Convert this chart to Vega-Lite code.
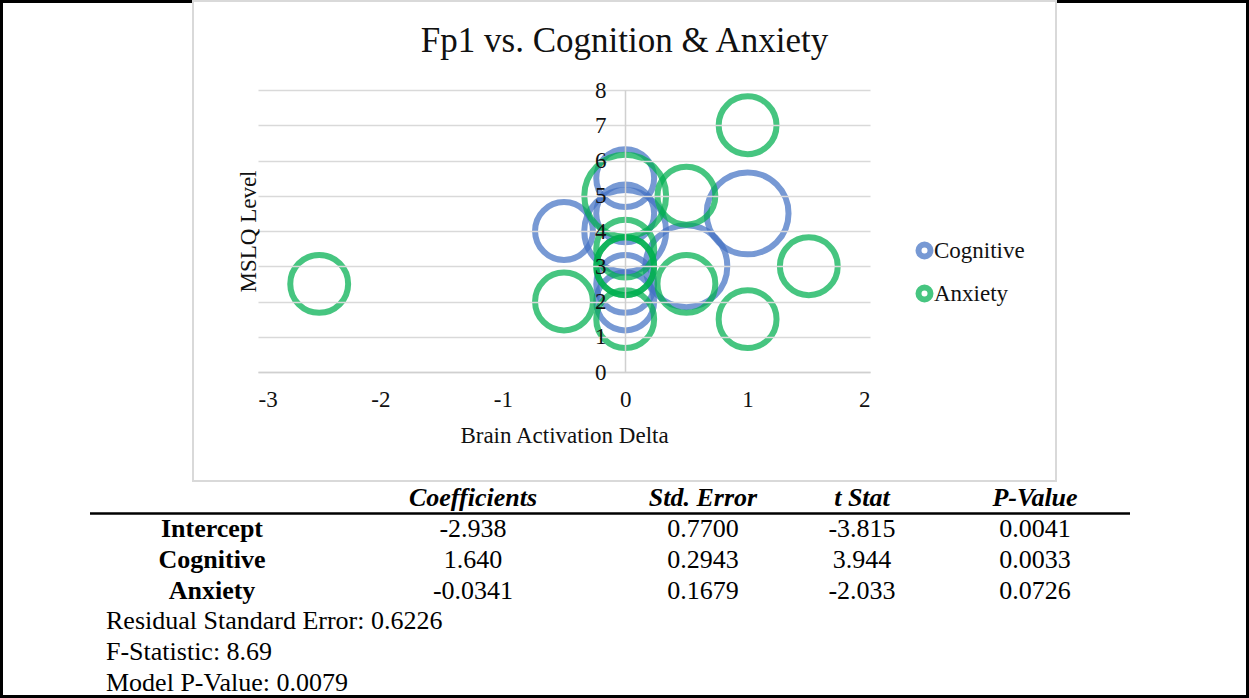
{
  "$schema": "https://vega.github.io/schema/vega-lite/v6.json",
  "width": 1249,
  "height": 698,
  "autosize": "none",
  "padding": 0,
  "background": "white",
  "config": {
    "view": {"stroke": "black", "strokeWidth": 6},
    "font": "Liberation Serif",
    "text": {"font": "Liberation Serif"}
  },
  "title": {
    "text": "Fp1 vs. Cognition & Anxiety",
    "anchor": "middle",
    "frame": "group",
    "font": "Liberation Serif",
    "fontSize": 35,
    "fontWeight": "normal",
    "color": "#111111",
    "offset": -87,
    "baseline": "alphabetic"
  },
  "datasets": {
    "bubbles": [
      {"series": "Cognitive", "delta": 0, "mslq": 5.5, "size": 1},
      {"series": "Cognitive", "delta": 0, "mslq": 4.5, "size": 1},
      {"series": "Cognitive", "delta": 0, "mslq": 4, "size": 2},
      {"series": "Cognitive", "delta": -0.5, "mslq": 4, "size": 1},
      {"series": "Cognitive", "delta": 1, "mslq": 4.5, "size": 2},
      {"series": "Cognitive", "delta": 0.5, "mslq": 3, "size": 2},
      {"series": "Cognitive", "delta": 0, "mslq": 2.5, "size": 1},
      {"series": "Cognitive", "delta": 0, "mslq": 2, "size": 1},
      {"series": "Anxiety", "delta": 1, "mslq": 7, "size": 1},
      {"series": "Anxiety", "delta": 0, "mslq": 5, "size": 2},
      {"series": "Anxiety", "delta": 0.5, "mslq": 5, "size": 1},
      {"series": "Anxiety", "delta": 0, "mslq": 3.5, "size": 1},
      {"series": "Anxiety", "delta": 0, "mslq": 3, "size": 1},
      {"series": "Anxiety", "delta": 0, "mslq": 3, "size": 1},
      {"series": "Anxiety", "delta": -0.5, "mslq": 2, "size": 1},
      {"series": "Anxiety", "delta": 0.5, "mslq": 2.5, "size": 1},
      {"series": "Anxiety", "delta": 1.5, "mslq": 3, "size": 1},
      {"series": "Anxiety", "delta": 1, "mslq": 1.5, "size": 1},
      {"series": "Anxiety", "delta": 0, "mslq": 1.5, "size": 1},
      {"series": "Anxiety", "delta": -2.5, "mslq": 2.5, "size": 1}
    ],
    "table": [
      {"kind": "header", "row": 0, "col": 1, "text": "Coefficients"},
      {"kind": "header", "row": 0, "col": 2, "text": "Std. Error"},
      {"kind": "header", "row": 0, "col": 3, "text": "t Stat"},
      {"kind": "header", "row": 0, "col": 4, "text": "P-Value"},
      {"kind": "label", "row": 1, "col": 0, "text": "Intercept"},
      {"kind": "label", "row": 2, "col": 0, "text": "Cognitive"},
      {"kind": "label", "row": 3, "col": 0, "text": "Anxiety"},
      {"kind": "value", "row": 1, "col": 1, "text": "-2.938"},
      {"kind": "value", "row": 1, "col": 2, "text": "0.7700"},
      {"kind": "value", "row": 1, "col": 3, "text": "-3.815"},
      {"kind": "value", "row": 1, "col": 4, "text": "0.0041"},
      {"kind": "value", "row": 2, "col": 1, "text": "1.640"},
      {"kind": "value", "row": 2, "col": 2, "text": "0.2943"},
      {"kind": "value", "row": 2, "col": 3, "text": "3.944"},
      {"kind": "value", "row": 2, "col": 4, "text": "0.0033"},
      {"kind": "value", "row": 3, "col": 1, "text": "-0.0341"},
      {"kind": "value", "row": 3, "col": 2, "text": "0.1679"},
      {"kind": "value", "row": 3, "col": 3, "text": "-2.033"},
      {"kind": "value", "row": 3, "col": 4, "text": "0.0726"},
      {"kind": "note", "row": 4, "col": -1, "text": "Residual Standard Error: 0.6226"},
      {"kind": "note", "row": 5, "col": -1, "text": "F-Statistic: 8.69"},
      {"kind": "note", "row": 6, "col": -1, "text": "Model P-Value: 0.0079"}
    ],
    "tablerule": [
      {"row": 0.5, "from": -2, "to": 5}
    ]
  },
  "layer": [
    {
      "data": {"values": [{"area": "Chart area"}]},
      "mark": {"type": "rect", "fill": "white", "stroke": "#d9d9d9", "strokeWidth": 2},
      "encoding": {
        "x": {"field": "area", "type": "nominal", "axis": null,
              "scale": {"type": "band", "range": [193, 1056], "paddingInner": 0, "paddingOuter": 0}},
        "y": {"field": "area", "type": "nominal", "axis": null,
              "scale": {"type": "band", "range": [1, 481], "paddingInner": 0, "paddingOuter": 0}}
      }
    },
    {
      "data": {"name": "bubbles"},
      "mark": {"type": "point", "shape": "circle", "filled": false, "strokeWidth": 6, "opacity": 0.72},
      "encoding": {
        "x": {
          "field": "delta", "type": "quantitative", "title": "Brain Activation Delta",
          "scale": {"domain": [-3, 2], "range": [258, 870], "nice": false, "zero": false},
          "axis": {
            "orient": "bottom", "offset": -326, "values": [-3, -2, -1, 0, 1, 2],
            "labelExpr": "replace(datum.label, '\u2212', '-')",
            "grid": false, "ticks": false, "tickSize": 0,
            "domainColor": "#d0d0d0", "domainWidth": 1.5,
            "labelFont": "Liberation Serif", "labelFontSize": 23, "labelColor": "#111111", "labelPadding": 16,
            "titleFont": "Liberation Serif", "titleFontSize": 23, "titleFontWeight": "normal", "titleColor": "#111111", "titlePadding": 13,
            "zindex": 1
          }
        },
        "y": {
          "field": "mslq", "type": "quantitative", "title": "MSLQ Level",
          "scale": {"domain": [0, 8], "range": [372, 90], "nice": false, "zero": false},
          "axis": {
            "orient": "left", "offset": -625, "values": [0, 1, 2, 3, 4, 5, 6, 7, 8],
            "grid": true, "gridColor": "#d9d9d9", "gridWidth": 1.5,
            "ticks": false, "tickSize": 0,
            "domainColor": "#d0d0d0", "domainWidth": 1.5,
            "labelFont": "Liberation Serif", "labelFontSize": 23, "labelColor": "#111111", "labelPadding": 19,
            "titleFont": "Liberation Serif", "titleFontSize": 23, "titleFontWeight": "normal", "titleColor": "#111111",
            "titleX": -377, "titleY": 231, "titleBaseline": "middle", "titleAngle": -90,
            "zindex": 1
          }
        },
        "color": {
          "field": "series", "type": "nominal",
          "scale": {"domain": ["Cognitive", "Anxiety"], "range": ["#4472C4", "#00B050"]},
          "legend": {
            "title": null, "orient": "none", "legendX": 913, "legendY": 239,
            "symbolType": "circle", "symbolSize": 144, "symbolStrokeWidth": 6,
            "labelFont": "Liberation Serif", "labelFontSize": 23, "labelColor": "#111111",
            "labelOffset": -2, "rowPadding": 6, "padding": 0
          }
        },
        "size": {
          "field": "size", "type": "quantitative",
          "scale": {"domain": [0, 2], "range": [0, 6700]},
          "legend": null
        }
      }
    },
    {
      "layer": [
        {
          "data": {"name": "tablerule"},
          "mark": {"type": "rule", "color": "black", "strokeWidth": 2.5},
          "encoding": {
            "x": {"field": "from", "type": "quantitative", "axis": null,
                  "scale": {"domain": [-2, -1, 0, 1, 2, 3, 4, 5], "range": [90, 106, 212, 473, 703, 862, 1035, 1130], "nice": false, "zero": false}},
            "x2": {"field": "to"},
            "y": {"field": "row", "type": "quantitative", "axis": null,
                  "scale": {"domain": [0, 6], "range": [498, 683], "nice": false, "zero": false}}
          }
        },
        {
          "data": {"name": "table"},
          "transform": [{"filter": "datum.kind === 'header'"}],
          "mark": {"type": "text", "font": "Liberation Serif", "fontSize": 26, "fontWeight": "bold", "fontStyle": "italic", "align": "center", "baseline": "middle", "color": "black"},
          "encoding": {
            "x": {"field": "col", "type": "quantitative", "axis": null},
            "y": {"field": "row", "type": "quantitative", "axis": null},
            "text": {"field": "text"}
          }
        },
        {
          "data": {"name": "table"},
          "transform": [{"filter": "datum.kind === 'label'"}],
          "mark": {"type": "text", "font": "Liberation Serif", "fontSize": 26, "fontWeight": "bold", "align": "center", "baseline": "middle", "color": "black"},
          "encoding": {
            "x": {"field": "col", "type": "quantitative", "axis": null},
            "y": {"field": "row", "type": "quantitative", "axis": null},
            "text": {"field": "text"}
          }
        },
        {
          "data": {"name": "table"},
          "transform": [{"filter": "datum.kind === 'value'"}],
          "mark": {"type": "text", "font": "Liberation Serif", "fontSize": 26, "align": "center", "baseline": "middle", "color": "black"},
          "encoding": {
            "x": {"field": "col", "type": "quantitative", "axis": null},
            "y": {"field": "row", "type": "quantitative", "axis": null},
            "text": {"field": "text"}
          }
        },
        {
          "data": {"name": "table"},
          "transform": [{"filter": "datum.kind === 'note'"}],
          "mark": {"type": "text", "font": "Liberation Serif", "fontSize": 26, "align": "left", "baseline": "middle", "color": "black"},
          "encoding": {
            "x": {"field": "col", "type": "quantitative", "axis": null},
            "y": {"field": "row", "type": "quantitative", "axis": null},
            "text": {"field": "text"}
          }
        }
      ]
    }
  ],
  "resolve": {"scale": {"x": "independent", "y": "independent"}}
}
